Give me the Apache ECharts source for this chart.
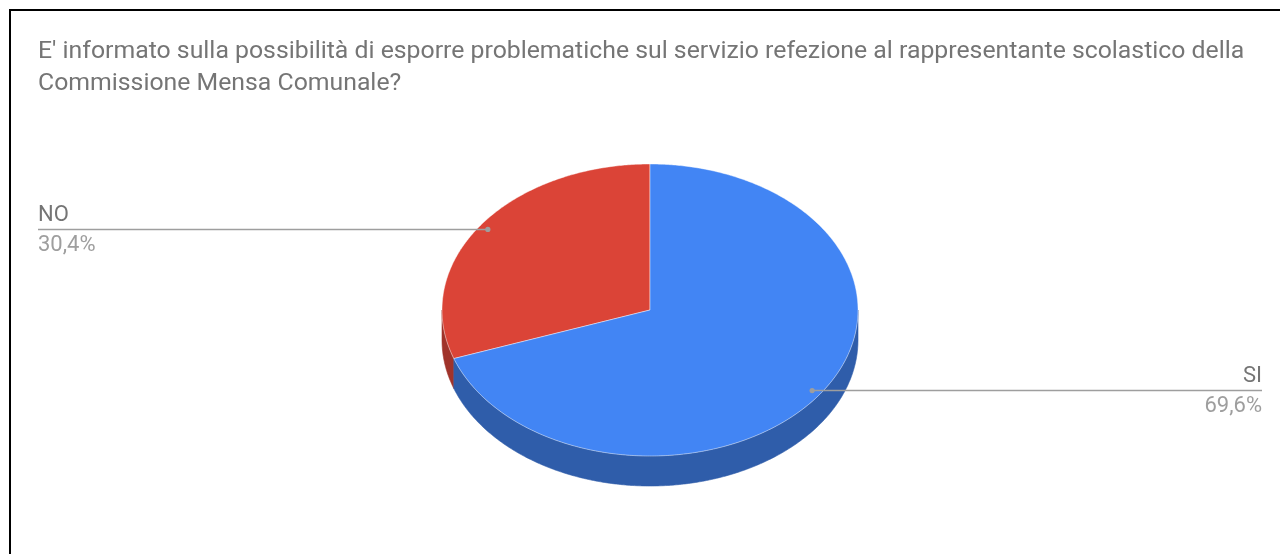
<!DOCTYPE html>
<html>
<head>
<meta charset="utf-8">
<script src="https://cdn.jsdelivr.net/npm/echarts@6/dist/echarts.min.js"></script>
<style>
  html, body { margin: 0; padding: 0; background: #fff; }
  body { position: relative; width: 1280px; height: 554px; overflow: hidden; }
  #frame { position: absolute; left: 9px; top: 9px; width: 1400px; height: 700px;
           border-top: 2px solid #000; border-left: 2px solid #000; }
  #chart { position: absolute; left: 0; top: 0; width: 1280px; height: 554px; }
</style>
</head>
<body>
<div id="frame"></div>
<div id="chart"></div>
<script>
// Survey answers
const titleText = "E' informato sulla possibilità di esporre problematiche sul servizio refezione al rappresentante scolastico della\nCommissione Mensa Comunale?";
const categories = ['NO', 'SI'];
const values = [30.4, 69.6];
const topColors = ['#DB4437', '#4285F4'];
const sideColors = ['#A0332A', '#2F5DAA'];

const total = values.reduce((a, b) => a + b, 0);
const fmtPct = v => (v / total * 100).toFixed(1).replace('.', ',') + '%';

// Tilted pie: ellipse top, extruded front wall, leader labels to the chart edges
function renderItem(params, api) {
  const i = params.dataIndex;
  const W = api.getWidth();
  const cx = 650, cy = 310, rx = 208, ry = 146, depth = 30;
  let before = 0;
  for (let k = 0; k < i; k++) before += values[k];
  const v = api.value(0);
  // slices start at 12 o'clock and run counter-clockwise
  const a0 = 90 + before / total * 360;
  const a1 = 90 + (before + v) / total * 360;
  const rad = d => d * Math.PI / 180;
  const pt = (deg, dy) => [cx + rx * Math.cos(rad(deg)), cy - ry * Math.sin(rad(deg)) + (dy || 0)];
  const arc = (from, to, dy) => {
    const pts = [];
    const n = Math.max(2, Math.ceil(Math.abs(to - from) * 2));
    for (let s = 0; s <= n; s++) pts.push(pt(from + (to - from) * s / n, dy));
    return pts;
  };
  const children = [];
  // visible front wall lies between 180 and 360 degrees
  for (const base of [0, 360]) {
    const s = Math.max(a0, 180 + base), e = Math.min(a1, 360 + base);
    if (e > s) {
      children.push({
        type: 'polygon', z2: 1,
        shape: { points: arc(s, e, 0).concat(arc(e, s, depth)) },
        style: { fill: sideColors[i], stroke: sideColors[i], lineWidth: 0.6 }
      });
    }
  }
  children.push({
    type: 'polygon', z2: 10,
    shape: { points: [[cx, cy]].concat(arc(a0, a1, 0)) },
    style: { fill: topColors[i], stroke: 'rgba(255,255,255,0.55)', lineWidth: 0.8 }
  });
  // leader line and labels
  const mid = (a0 + a1) / 2;
  const dot = [cx + rx * 0.955 * Math.cos(rad(mid)), cy - ry * 0.955 * Math.sin(rad(mid))];
  const onLeft = Math.cos(rad(mid)) < 0;
  const endX = onLeft ? 38 : W - 18;
  children.push({
    type: 'line', z2: 20,
    shape: { x1: dot[0], y1: dot[1], x2: endX, y2: dot[1] },
    style: { stroke: '#9e9e9e', lineWidth: 1.5 }
  });
  children.push({
    type: 'circle', z2: 21,
    shape: { cx: dot[0], cy: dot[1], r: 2.6 },
    style: { fill: '#9e9e9e' }
  });
  children.push({
    type: 'text', z2: 22, x: endX, y: dot[1] - 3,
    style: { text: categories[i], fill: '#757575', font: '22px Roboto',
             align: onLeft ? 'left' : 'right', verticalAlign: 'bottom' }
  });
  children.push({
    type: 'text', z2: 22, x: endX, y: dot[1] + 5,
    style: { text: fmtPct(v), fill: '#9e9e9e', font: '22px Roboto',
             align: onLeft ? 'left' : 'right', verticalAlign: 'top' }
  });
  return { type: 'group', children };
}

const chart = echarts.init(document.getElementById('chart'), null, { renderer: 'canvas' });
chart.setOption({
  backgroundColor: 'transparent',
  animation: false,
  title: {
    text: titleText,
    left: 38,
    top: 36,
    padding: 0,
    textStyle: { fontFamily: 'Roboto', fontSize: 24.8, fontWeight: 'normal', color: '#757575', lineHeight: 32 }
  },
  series: [{
    type: 'custom',
    coordinateSystem: 'none',
    silent: true,
    data: values.map((v, i) => ({ name: categories[i], value: [v] })),
    renderItem: renderItem
  }]
});
</script>
</body>
</html>
